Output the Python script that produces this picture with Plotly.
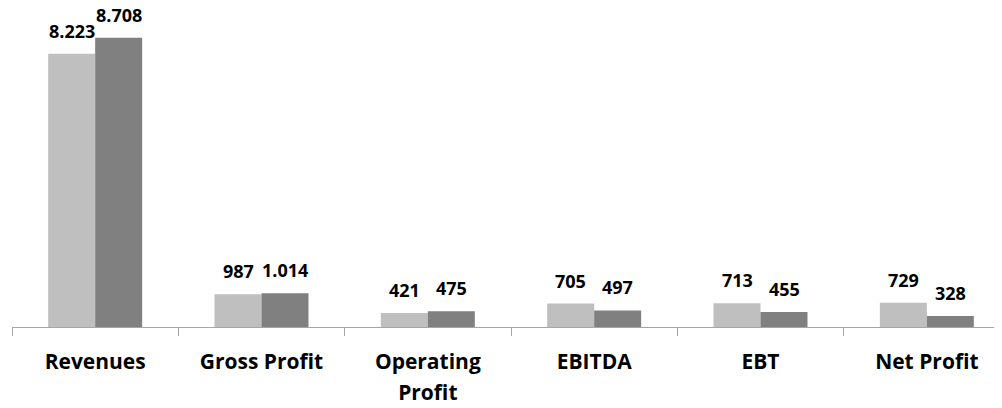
import plotly.graph_objects as go

categories = ["Revenues", "Gross Profit", "Operating<br>Profit", "EBITDA", "EBT", "Net Profit"]
series_a = [8223, 987, 421, 705, 713, 729]
series_b = [8708, 1014, 475, 497, 455, 328]

light = "#BFBFBF"
dark = "#808080"
FONT = "Open Sans"

fig = go.Figure()
fig.add_trace(go.Bar(x=categories, y=series_a, marker=dict(color=light, line=dict(width=0))))
fig.add_trace(go.Bar(x=categories, y=series_b, marker=dict(color=dark, line=dict(width=0))))

# value labels above each bar
half = 23.5
for vals, shift in ((series_a, -half), (series_b, half)):
    for c, v in zip(categories, vals):
        fig.add_annotation(x=c, y=v, xref="x", yref="y", text=f"{v:,}".replace(",", "."),
                           showarrow=False, xanchor="center", yanchor="bottom",
                           xshift=shift, yshift=9,
                           font=dict(family=FONT, size=18, color="black", weight="bold"))

tick_text = ["<span style='font-size:21px'>" + "<br>".join(
    "<span style='font-size:21px'>" + part + "</span>" for part in c.split("<br>")) + "</span>"
    for c in categories]

fig.update_layout(
    width=1002, height=408,
    margin=dict(l=4, r=0, t=0, b=89),
    paper_bgcolor="white", plot_bgcolor="white",
    barmode="group", bargap=0.435, bargroupgap=0,
    showlegend=False,
    font=dict(family=FONT, color="black"),
)
fig.update_xaxes(range=[-0.5, 5.5], showline=True, linecolor="#A6A6A6", linewidth=1,
                 ticks="outside", tickson="boundaries", ticklen=8, tickcolor="#A6A6A6",
                 ticklabelstandoff=12,
                 tickmode="array", tickvals=categories, ticktext=tick_text,
                 tickfont=dict(family=FONT, size=24, color="black", weight="bold"),
                 showgrid=False, zeroline=False, tickangle=0, automargin=False)
fig.update_yaxes(range=[0, 9600], visible=False, showgrid=False, zeroline=False, automargin=False)

fig.write_html("out.html")
